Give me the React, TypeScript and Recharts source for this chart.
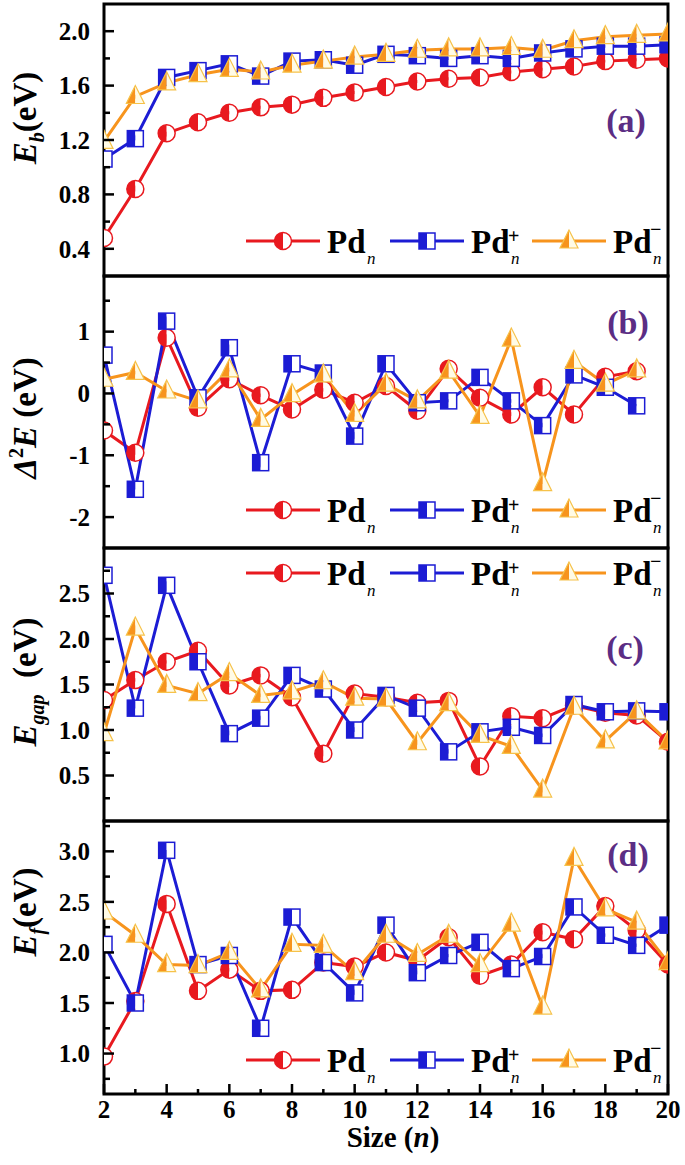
import type { ReactNode } from "react";
import { Legend, Line, LineChart, ReferenceArea, XAxis, YAxis } from "recharts";

const FONT = "'Liberation Serif', 'Times New Roman', Times, serif";
const RED = "#e8191f";
const BLUE = "#1c1cd4";
const ORANGE = "#f7941d";
const PURPLE = "#5b2d84";

const sizes = [2, 3, 4, 5, 6, 7, 8, 9, 10, 11, 12, 13, 14, 15, 16, 17, 18, 19, 20];
const sizeLabels = [2, 4, 6, 8, 10, 12, 14, 16, 18, 20];

// (a) binding energy per atom
const ebNeutral = [0.48, 0.84, 1.25, 1.33, 1.4, 1.44, 1.46, 1.51, 1.55, 1.59, 1.63, 1.65, 1.66, 1.7, 1.72, 1.74, 1.78, 1.79, 1.8];
const ebCation = [1.06, 1.21, 1.66, 1.71, 1.76, 1.67, 1.78, 1.79, 1.75, 1.83, 1.82, 1.8, 1.82, 1.8, 1.84, 1.87, 1.89, 1.89, 1.9];
const ebAnion = [1.19, 1.52, 1.62, 1.68, 1.72, 1.7, 1.75, 1.78, 1.81, 1.83, 1.86, 1.87, 1.87, 1.88, 1.86, 1.93, 1.96, 1.97, 1.98];
const ebTicks = [0.4, 0.6, 0.8, 1.0, 1.2, 1.4, 1.6, 1.8, 2.0];
const ebLabels = [0.4, 0.8, 1.2, 1.6, 2.0];

// (b) second-order energy difference
const d2Neutral = [-0.6, -0.96, 0.9, -0.23, 0.23, -0.03, -0.26, 0.06, -0.15, 0.12, -0.28, 0.4, -0.07, -0.34, 0.1, -0.34, 0.27, 0.36, null];
const d2Cation = [0.62, -1.55, 1.17, -0.07, 0.74, -1.12, 0.48, 0.33, -0.69, 0.48, -0.15, -0.12, 0.26, -0.12, -0.52, 0.3, 0.1, -0.2, null];
const d2Anion = [0.23, 0.34, 0.04, -0.12, 0.38, -0.42, -0.02, 0.3, -0.34, 0.15, -0.12, 0.36, -0.37, 0.88, -1.46, 0.52, 0.15, 0.38, null];
const d2Ticks = [-2, -1.5, -1, -0.5, 0, 0.5, 1, 1.5];
const d2Labels = [-2, -1, 0, 1];

// (c) HOMO-LUMO gap
const gapNeutral = [1.33, 1.55, 1.75, 1.87, 1.49, 1.6, 1.36, 0.74, 1.4, 1.36, 1.3, 1.32, 0.6, 1.15, 1.13, 1.27, 1.19, 1.16, 0.87];
const gapCation = [2.7, 1.24, 2.59, 1.75, 0.96, 1.13, 1.6, 1.45, 1.0, 1.38, 1.24, 0.76, 0.98, 1.03, 0.94, 1.28, 1.2, 1.21, 1.2];
const gapAnion = [0.96, 2.12, 1.49, 1.4, 1.62, 1.38, 1.42, 1.53, 1.35, 1.34, 0.86, 1.29, 0.94, 0.82, 0.34, 1.25, 0.88, 1.2, 0.87];
const gapTicks = [0.25, 0.5, 0.75, 1.0, 1.25, 1.5, 1.75, 2.0, 2.25, 2.5, 2.75];
const gapLabels = [0.5, 1.0, 1.5, 2.0, 2.5];

// (d) fragmentation energy
const efNeutral = [0.97, 1.52, 2.48, 1.62, 1.83, 1.62, 1.63, 1.9, 1.86, 2.0, 1.92, 2.15, 1.77, 1.88, 2.2, 2.13, 2.46, 2.22, 1.88];
const efCation = [2.08, 1.5, 3.01, 1.88, 1.97, 1.25, 2.35, 1.9, 1.6, 2.27, 1.8, 1.97, 2.1, 1.84, 1.96, 2.45, 2.17, 2.07, 2.27];
const efAnion = [2.4, 2.17, 1.88, 1.87, 2.0, 1.63, 2.08, 2.07, 1.8, 2.17, 1.98, 2.17, 1.88, 2.28, 1.46, 2.93, 2.43, 2.3, 1.9];
const efTicks = [0.75, 1.0, 1.25, 1.5, 1.75, 2.0, 2.25, 2.5, 2.75, 3.0, 3.25];
const efLabels = [1.0, 1.5, 2.0, 2.5, 3.0];

type Shape = "circle" | "square" | "triangle";

function Marker({ cx, cy, shape, color }: { cx: number; cy: number; shape: Shape; color: string }) {
  if (shape === "circle") {
    const r = 8.5;
    return (
      <g>
        <path d={`M${cx},${cy - r} A${r},${r} 0 0 0 ${cx},${cy + r} Z`} fill={color} />
        <path d={`M${cx},${cy - r} A${r},${r} 0 0 1 ${cx},${cy + r} Z`} fill="#fff" />
        <circle cx={cx} cy={cy} r={r} fill="none" stroke={color} strokeWidth={1.5} />
      </g>
    );
  }
  if (shape === "square") {
    const h = 8;
    return (
      <g>
        <rect x={cx - h} y={cy - h} width={h} height={2 * h} fill={color} />
        <rect x={cx} y={cy - h} width={h} height={2 * h} fill="#fff" />
        <rect x={cx - h} y={cy - h} width={2 * h} height={2 * h} fill="none" stroke={color} strokeWidth={1.5} />
      </g>
    );
  }
  const top = cy - 11;
  const base = cy + 7;
  return (
    <g>
      <polygon points={`${cx},${top} ${cx - 9},${base} ${cx},${base}`} fill={color} />
      <polygon points={`${cx},${top} ${cx},${base} ${cx + 9},${base}`} fill="#fffbe6" />
      <polygon points={`${cx},${top} ${cx - 9},${base} ${cx + 9},${base}`} fill="none" stroke="#f6c24a" strokeWidth={1.2} />
    </g>
  );
}

const seriesDefs: { key: "neutral" | "cation" | "anion"; color: string; shape: Shape; charge: string }[] = [
  { key: "neutral", color: RED, shape: "circle", charge: "" },
  { key: "cation", color: BLUE, shape: "square", charge: "+" },
  { key: "anion", color: ORANGE, shape: "triangle", charge: "\u2212" },
];

function LegendBox() {
  const items = [
    { x: 0, ...seriesDefs[0] },
    { x: 144, ...seriesDefs[1] },
    { x: 286, ...seriesDefs[2] },
  ];
  return (
    <svg width={440} height={56} style={{ overflow: "visible", display: "block" }}>
      {items.map((it) => (
        <g key={it.key}>
          <line x1={it.x + 6} x2={it.x + 80} y1={25} y2={25} stroke={it.color} strokeWidth={3} />
          <Marker cx={it.x + 43} cy={25} shape={it.shape} color={it.color} />
          <text x={it.x + 87} y={37} fontFamily={FONT} fontWeight="bold" fontSize={33} fill="#000">
            Pd
          </text>
          {it.charge ? (
            <text x={it.x + 124} y={it.charge === "+" ? 27 : 20} fontFamily={FONT} fontWeight="bold" fontSize={20} fill="#000">
              {it.charge}
            </text>
          ) : null}
          <text x={it.x + 127} y={48} fontFamily={FONT} fontStyle="italic" fontSize={17} fill="#000">
            n
          </text>
        </g>
      ))}
    </svg>
  );
}

function sizeTick(showLabel: boolean) {
  return (props: any) => {
    const { x, y, payload } = props;
    const major = payload.value % 2 === 0;
    return (
      <g>
        <line x1={x} x2={x} y1={y} y2={y - (major ? 10 : 5)} stroke="#000" strokeWidth={2.5} />
        {showLabel && sizeLabels.includes(payload.value) ? (
          <text x={x} y={y + 24} textAnchor="middle" fontFamily={FONT} fontWeight="bold" fontSize={25} fill="#000">
            {payload.value}
          </text>
        ) : null}
      </g>
    );
  };
}

function valueTick(labels: number[], digits: number) {
  return (props: any) => {
    const { x, y, payload } = props;
    const v = payload.value as number;
    const major = labels.some((l) => Math.abs(l - v) < 1e-6);
    return (
      <g>
        <line x1={x} x2={x + (major ? 10 : 6)} y1={y} y2={y} stroke="#000" strokeWidth={2.5} />
        {major ? (
          <text x={x - 14} y={y} dy="0.35em" textAnchor="end" fontFamily={FONT} fontWeight="bold" fontSize={25} fill="#000">
            {v.toFixed(digits)}
          </text>
        ) : null}
      </g>
    );
  };
}

type PanelProps = {
  top: number;
  bottom: number;
  domain: [number, number];
  ticks: number[];
  labels: number[];
  digits: number;
  neutral: (number | null)[];
  cation: (number | null)[];
  anion: (number | null)[];
  legendY: number;
  showSize?: boolean;
};

function Panel(p: PanelProps) {
  const pad = 3;
  const sizeAxis = p.showSize ? 71 : 0;
  const chartTop = p.top - pad;
  const height = p.bottom - p.top + pad + (p.showSize ? sizeAxis : pad);
  const rows = sizes.map((n, i) => ({ n, neutral: p.neutral[i], cation: p.cation[i], anion: p.anion[i] }));

  return (
    <div style={{ position: "absolute", left: 0, top: chartTop }}>
      <LineChart width={685} height={height} data={rows} margin={{ top: pad, right: 17, bottom: p.showSize ? 0 : pad, left: 0 }}>
        <XAxis
          type="number"
          dataKey="n"
          domain={[2, 20]}
          ticks={sizes}
          interval={0}
          allowDataOverflow
          axisLine={false}
          tickLine={false}
          tickSize={0}
          tickMargin={0}
          height={sizeAxis}
          tick={sizeTick(!!p.showSize)}
        />
        <YAxis
          type="number"
          domain={p.domain}
          ticks={p.ticks}
          interval={0}
          allowDataOverflow
          width={104}
          axisLine={false}
          tickLine={false}
          tickSize={0}
          tickMargin={0}
          tick={valueTick(p.labels, p.digits)}
        />
        <ReferenceArea x1={2} x2={20} y1={p.domain[0]} y2={p.domain[1]} fill="none" stroke="#000" strokeWidth={3} ifOverflow="visible" />
        {seriesDefs.map((s) => (
          <Line
            key={s.key}
            type="linear"
            dataKey={s.key}
            stroke={s.color}
            strokeWidth={3}
            isAnimationActive={false}
            activeDot={false}
            dot={(d: any) =>
              d.cx == null || d.cy == null || d.value == null ? (
                <g key={`${s.key}-${d.index}`} />
              ) : (
                <g key={`${s.key}-${d.index}`}>
                  <Marker cx={d.cx} cy={d.cy} shape={s.shape} color={s.color} />
                </g>
              )
            }
          />
        ))}
        <Legend
          layout="horizontal"
          verticalAlign="middle"
          align="center"
          content={() => <LegendBox />}
          wrapperStyle={{ left: 240, top: p.legendY - chartTop - 25, width: 440, height: 56 }}
        />
      </LineChart>
    </div>
  );
}

function AxisTitle({ x, y, children }: { x: number; y: number; children: ReactNode }) {
  return (
    <text
      x={x}
      y={y}
      transform={`rotate(-90 ${x} ${y})`}
      textAnchor="middle"
      fontFamily={FONT}
      fontWeight="bold"
      fontSize={33}
      fill="#000"
    >
      {children}
    </text>
  );
}

function Tag({ x, y, children }: { x: number; y: number; children: ReactNode }) {
  return (
    <text x={x} y={y} textAnchor="middle" fontFamily={FONT} fontWeight="bold" fontSize={34} fill={PURPLE}>
      {children}
    </text>
  );
}

export default function App() {
  return (
    <div style={{ position: "absolute", left: 0, top: 0, width: 685, height: 1165, background: "#fff" }}>
      <Panel top={4} bottom={276} domain={[0.2, 2.2]} ticks={ebTicks} labels={ebLabels} digits={1}
        neutral={ebNeutral} cation={ebCation} anion={ebAnion} legendY={241} />
      <Panel top={276} bottom={548} domain={[-2.5, 1.9]} ticks={d2Ticks} labels={d2Labels} digits={0}
        neutral={d2Neutral} cation={d2Cation} anion={d2Anion} legendY={510} />
      <Panel top={548} bottom={821} domain={[0, 3]} ticks={gapTicks} labels={gapLabels} digits={1}
        neutral={gapNeutral} cation={gapCation} anion={gapAnion} legendY={573} />
      <Panel top={821} bottom={1094} domain={[0.6, 3.3]} ticks={efTicks} labels={efLabels} digits={1}
        neutral={efNeutral} cation={efCation} anion={efAnion} legendY={1060} showSize />
      <svg width={685} height={1165} style={{ position: "absolute", left: 0, top: 0, pointerEvents: "none" }}>
        <AxisTitle x={36} y={118}>
          <tspan fontStyle="italic">E</tspan>
          <tspan fontStyle="italic" fontSize={20} dy={8}>b</tspan>
          <tspan dy={-8}>(eV)</tspan>
        </AxisTitle>
        <AxisTitle x={36} y={418}>
          <tspan fontStyle="italic">{"\u0394"}</tspan>
          <tspan fontSize={20} dy={-13}>2</tspan>
          <tspan fontStyle="italic" dy={13}>E</tspan>
          <tspan>{"\u00a0(eV)"}</tspan>
        </AxisTitle>
        <AxisTitle x={36} y={682}>
          <tspan fontStyle="italic">E</tspan>
          <tspan fontStyle="italic" fontSize={20} dy={8}>gap</tspan>
          <tspan dy={-8}>{"\u00a0\u00a0(eV)"}</tspan>
        </AxisTitle>
        <AxisTitle x={36} y={912}>
          <tspan fontStyle="italic">E</tspan>
          <tspan fontStyle="italic" fontSize={20} dy={8}>f</tspan>
          <tspan dy={-8}>(eV)</tspan>
        </AxisTitle>
        <Tag x={626} y={132}>(a)</Tag>
        <Tag x={628} y={334}>(b)</Tag>
        <Tag x={625} y={659}>(c)</Tag>
        <Tag x={628} y={866}>(d)</Tag>
        <text x={393} y={1147} textAnchor="middle" fontFamily={FONT} fontWeight="bold" fontSize={29} fill="#000">
          Size (<tspan fontStyle="italic">n</tspan>)
        </text>
      </svg>
    </div>
  );
}
